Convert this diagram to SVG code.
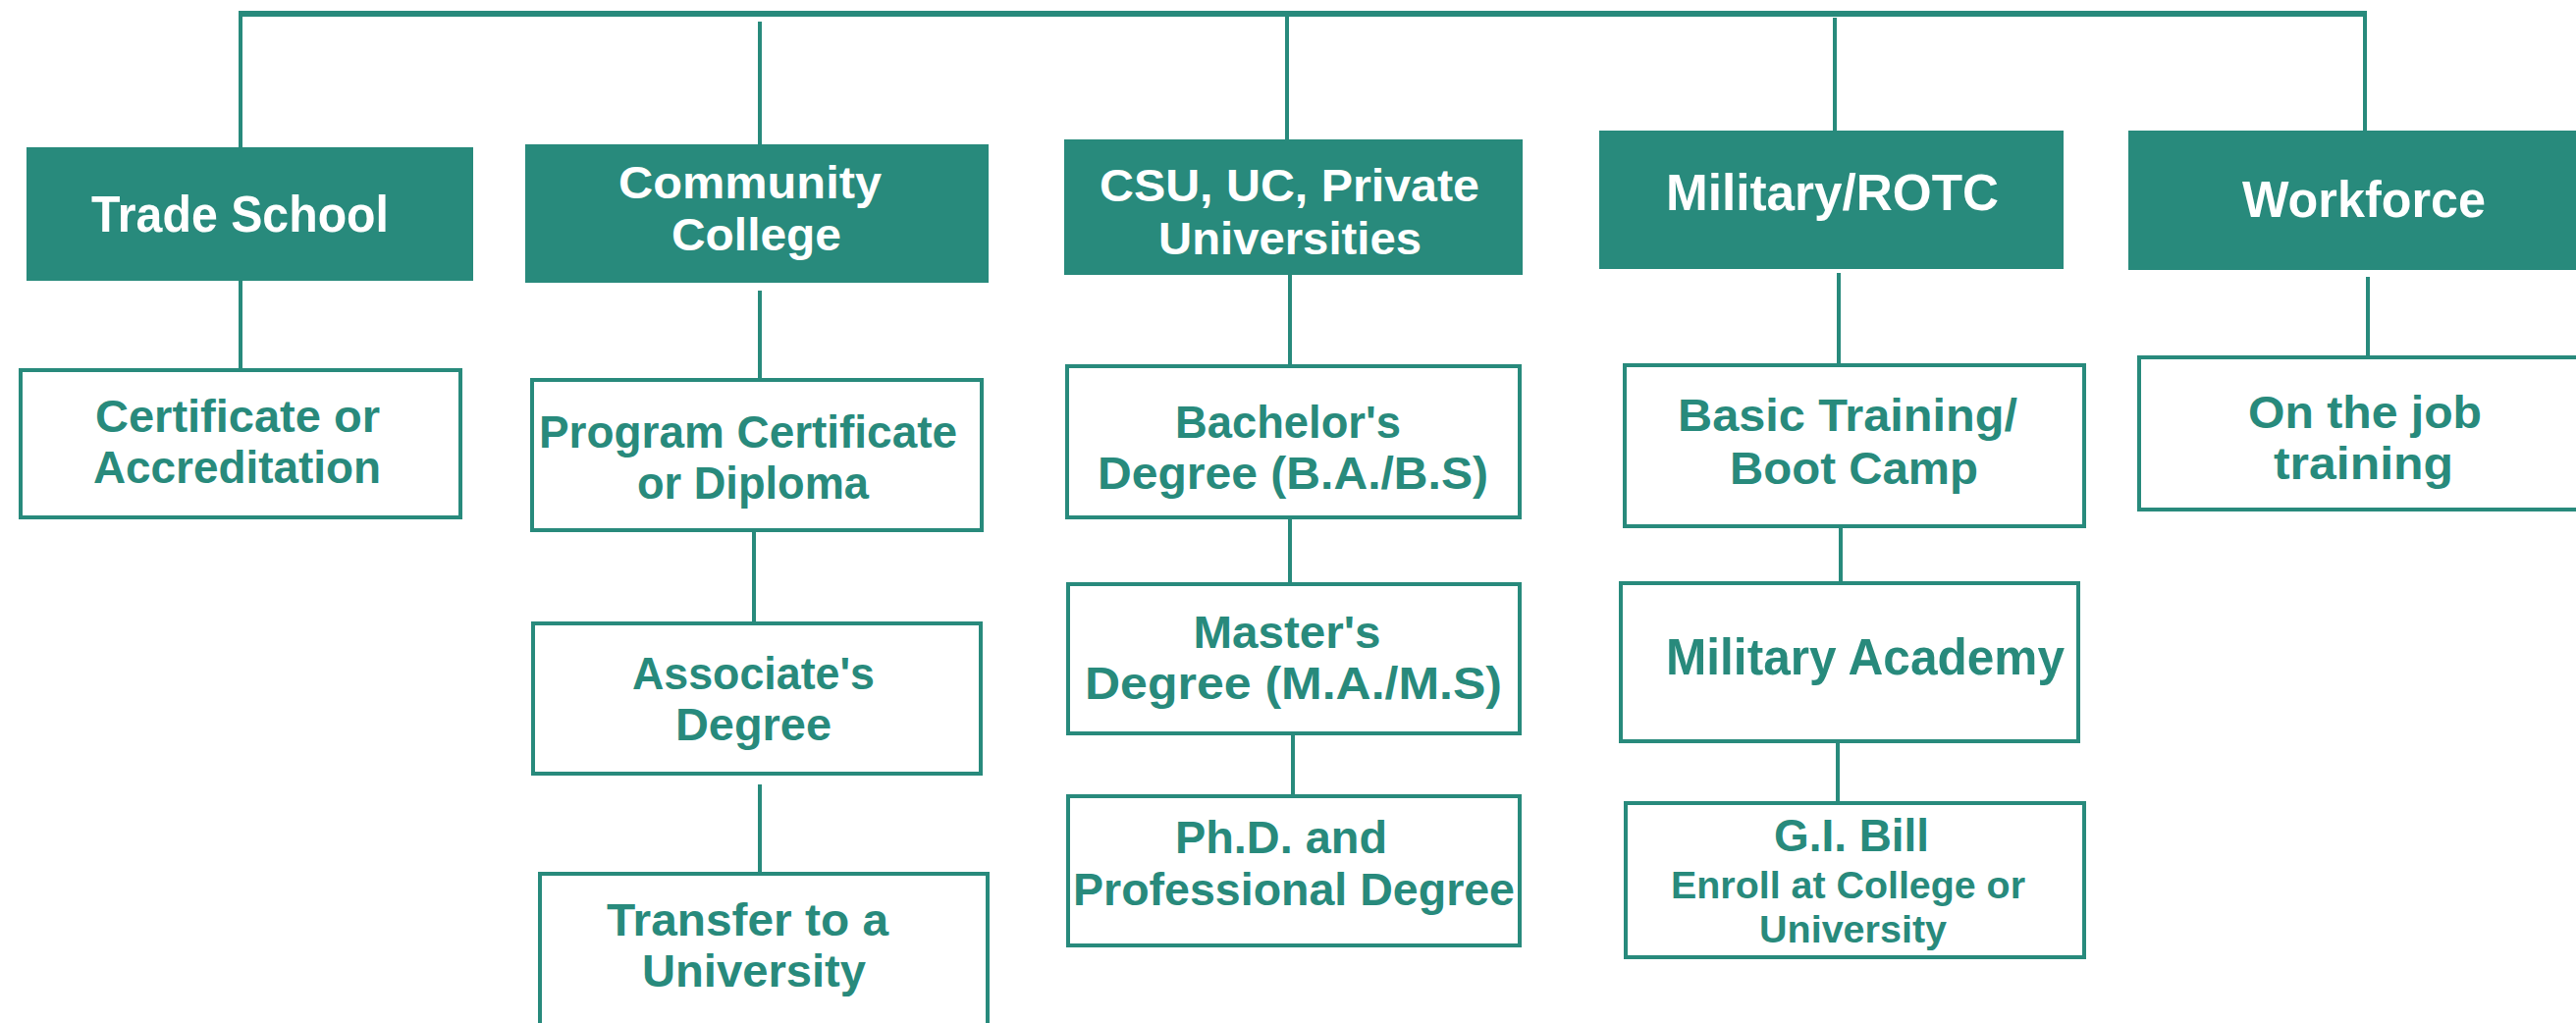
<svg xmlns="http://www.w3.org/2000/svg" width="2624" height="1042" viewBox="0 0 2624 1042">
<style>
.hdr{fill:#288a7c}
.box{fill:#fff;stroke:#288a7c;stroke-width:4}
.ln{stroke:#288a7c;stroke-width:4;fill:none}
.top{stroke:#288a7c;stroke-width:6;fill:none}
text{font-family:"Liberation Sans",Arial,sans-serif;font-weight:bold;text-anchor:middle}
.ht{fill:#fff;font-size:46px}
.h1{fill:#fff;font-size:52px}
.ct{fill:#288a7c;font-size:46px}
.c1{fill:#288a7c;font-size:52px}
.st{fill:#288a7c;font-size:38px}
</style>
<rect width="2624" height="1042" fill="#fff"/>
<g id="connectors">
<path class="top" d="M243,14 H2411"/>
<path class="ln" d="M245,12 V150 M774,22 V147 M1311,16 V142 M1869,18 V133 M2409,12 V133"/>
<path class="ln" d="M245,286 V375 M774,296 V385 M768,542 V633 M774,799 V888 M1314,280 V371 M1314,529 V593 M1317,749 V809 M1873,278 V370 M1875,538 V592 M1872,757 V816 M2412,282 V362"/>
</g>
<g id="trade-school"><rect class="hdr" x="27" y="150" width="455" height="136"/><text class="h1" x="244.5" y="236" textLength="303" lengthAdjust="spacingAndGlyphs">Trade School</text></g>
<g id="community-college"><rect class="hdr" x="535" y="147" width="472" height="141"/><text class="ht" x="764" y="202" textLength="268" lengthAdjust="spacingAndGlyphs">Community</text><text class="ht" x="770.5" y="255" textLength="173" lengthAdjust="spacingAndGlyphs">College</text></g>
<g id="universities"><rect class="hdr" x="1084" y="142" width="467" height="138"/><text class="ht" x="1313.5" y="205" textLength="387" lengthAdjust="spacingAndGlyphs">CSU, UC, Private</text><text class="ht" x="1314" y="259" textLength="268" lengthAdjust="spacingAndGlyphs">Universities</text></g>
<g id="military"><rect class="hdr" x="1629" y="133" width="473" height="141"/><text class="h1" x="1866.5" y="214" textLength="339" lengthAdjust="spacingAndGlyphs">Military/ROTC</text></g>
<g id="workforce"><rect class="hdr" x="2168" y="133" width="470" height="142"/><text class="h1" x="2408" y="221" textLength="248" lengthAdjust="spacingAndGlyphs">Workforce</text></g>
<g id="certificate"><rect class="box" x="21" y="377" width="448" height="150"/><text class="ct" x="242" y="440" textLength="290" lengthAdjust="spacingAndGlyphs">Certificate or</text><text class="ct" x="241.5" y="492" textLength="293" lengthAdjust="spacingAndGlyphs">Accreditation</text></g>
<g id="program-certificate"><rect class="box" x="542" y="387" width="458" height="153"/><text class="ct" x="762" y="456" textLength="426" lengthAdjust="spacingAndGlyphs">Program Certificate</text><text class="ct" x="767" y="508" textLength="236" lengthAdjust="spacingAndGlyphs">or Diploma</text></g>
<g id="associate"><rect class="box" x="543" y="635" width="456" height="153"/><text class="ct" x="767.5" y="702" textLength="247" lengthAdjust="spacingAndGlyphs">Associate's</text><text class="ct" x="767.5" y="754" textLength="159" lengthAdjust="spacingAndGlyphs">Degree</text></g>
<g id="transfer"><rect class="box" x="550" y="890" width="456" height="170"/><text class="ct" x="761.5" y="953" textLength="287" lengthAdjust="spacingAndGlyphs">Transfer to a</text><text class="ct" x="768" y="1005" textLength="228" lengthAdjust="spacingAndGlyphs">University</text></g>
<g id="bachelor"><rect class="box" x="1087" y="373" width="461" height="154"/><text class="ct" x="1312" y="446" textLength="230" lengthAdjust="spacingAndGlyphs">Bachelor's</text><text class="ct" x="1317" y="498" textLength="398" lengthAdjust="spacingAndGlyphs">Degree (B.A./B.S)</text></g>
<g id="master"><rect class="box" x="1088" y="595" width="460" height="152"/><text class="ct" x="1311" y="659.5" textLength="191" lengthAdjust="spacingAndGlyphs">Master's</text><text class="ct" x="1317.5" y="711.5" textLength="425" lengthAdjust="spacingAndGlyphs">Degree (M.A./M.S)</text></g>
<g id="phd"><rect class="box" x="1088" y="811" width="460" height="152"/><text class="ct" x="1305" y="869" textLength="216" lengthAdjust="spacingAndGlyphs">Ph.D. and</text><text class="ct" x="1318" y="922" textLength="450" lengthAdjust="spacingAndGlyphs">Professional Degree</text></g>
<g id="basic-training"><rect class="box" x="1655" y="372" width="468" height="164"/><text class="ct" x="1882" y="439" textLength="346" lengthAdjust="spacingAndGlyphs">Basic Training/</text><text class="ct" x="1888.5" y="493" textLength="253" lengthAdjust="spacingAndGlyphs">Boot Camp</text></g>
<g id="military-academy"><rect class="box" x="1651" y="594" width="466" height="161"/><text class="c1" x="1900" y="687" textLength="406" lengthAdjust="spacingAndGlyphs">Military Academy</text></g>
<g id="gi-bill"><rect class="box" x="1656" y="818" width="467" height="157"/><text class="ct" x="1886" y="867" textLength="158" lengthAdjust="spacingAndGlyphs">G.I. Bill</text><text class="st" x="1882.5" y="915" textLength="361" lengthAdjust="spacingAndGlyphs">Enroll at College or</text><text class="st" x="1887.5" y="960" textLength="191" lengthAdjust="spacingAndGlyphs">University</text></g>
<g id="on-the-job"><rect class="box" x="2179" y="364" width="460" height="155"/><text class="ct" x="2409" y="436" textLength="238" lengthAdjust="spacingAndGlyphs">On the job</text><text class="ct" x="2407.5" y="488" textLength="183" lengthAdjust="spacingAndGlyphs">training</text></g>
</svg>
